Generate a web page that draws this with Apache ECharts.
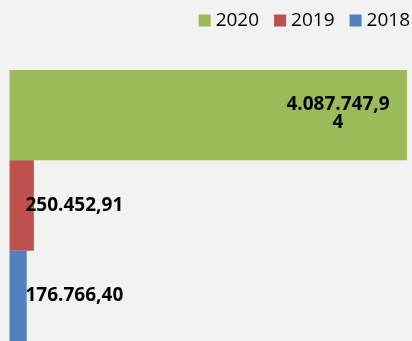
<!DOCTYPE html>
<html>
<head>
<meta charset="utf-8">
<script src="https://cdn.jsdelivr.net/npm/echarts@6/dist/echarts.min.js"></script>
<style>
  html, body { margin: 0; padding: 0; background: #f2f2f2; }
  #chart { width: 412px; height: 341px; }
</style>
</head>
<body>
<div id="chart"></div>
<script>
// One category, three yearly series drawn as adjacent horizontal bars
const categories = [''];
const years = ['2020', '2019', '2018'];
const values2020 = [4087747.94];
const values2019 = [250452.91];
const values2018 = [176766.40];
const colors = ['#9BBB59', '#C0504D', '#4F81BD'];

// 1234567.8 -> "1.234.567,80"
function fmt(v) {
  const parts = v.toFixed(2).split('.');
  const intPart = parts[0].replace(/\B(?=(\d{3})+(?!\d))/g, '.');
  return intPart + ',' + parts[1];
}

const labelFont = {
  fontFamily: 'Open Sans',
  fontWeight: 'bold',
  fontSize: 19,
  color: '#000'
};

const seriesValues = [values2020, values2019, values2018];
const labels = [
  Object.assign({
    show: true,
    position: 'insideRight',
    distance: 69,
    align: 'center',
    width: 108,
    overflow: 'breakAll',
    lineHeight: 18,
    offset: [0, -2],
    formatter: p => fmt(p.value)
  }, labelFont),
  Object.assign({
    show: true,
    position: 'insideLeft',
    distance: 16,
    formatter: p => fmt(p.value)
  }, labelFont),
  Object.assign({
    show: true,
    position: 'insideLeft',
    distance: 16,
    formatter: p => fmt(p.value)
  }, labelFont)
];

const chart = echarts.init(document.getElementById('chart'));
chart.setOption({
  backgroundColor: '#f2f2f2',
  animation: false,
  legend: {
    data: years,
    right: 2,
    top: 11,
    padding: 0,
    icon: 'rect',
    itemWidth: 12,
    itemHeight: 12,
    itemGap: 15,
    textStyle: { fontFamily: 'Open Sans', fontSize: 19, color: '#000' }
  },
  grid: { left: 9.5, right: 5, top: 70, bottom: 0, containLabel: false },
  xAxis: { type: 'value', min: 0, max: 'dataMax', show: false },
  yAxis: { type: 'category', data: categories, show: false },
  series: years.map((y, i) => ({
    name: y,
    type: 'bar',
    data: seriesValues[i],
    barGap: '0%',
    barCategoryGap: '0%',
    itemStyle: { color: colors[i] },
    label: labels[i]
  }))
});
</script>
</body>
</html>
